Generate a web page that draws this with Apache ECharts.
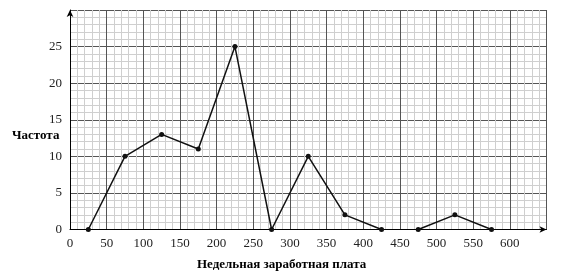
<!DOCTYPE html>
<html>
<head>
<meta charset="utf-8">
<script src="https://cdn.jsdelivr.net/npm/echarts@6/dist/echarts.min.js"></script>
<style>html,body{margin:0;padding:0;background:#fff}#c{width:562px;height:277px}</style>
</head>
<body>
<div id="c"></div>
<script>
// Data: weekly wage midpoints and frequencies (two separate segments)
const wages1 = [25, 75, 125, 175, 225, 275, 325, 375, 425];
const freq1  = [0, 10, 13, 11, 25, 0, 10, 2, 0];
const wages2 = [475, 525, 575];
const freq2  = [0, 2, 0];
const xTicks = [0, 50, 100, 150, 200, 250, 300, 350, 400, 450, 500, 550, 600];
const yTicks = [0, 5, 10, 15, 20, 25];
const yLabel = 'Частота';
const xLabel = 'Недельная заработная плата';

const font = '"Liberation Serif", "Times New Roman", serif';
const chart = echarts.init(document.getElementById('c'), null, {renderer: 'canvas'});
const seriesStyle = {
  type: 'line',
  symbol: 'circle',
  symbolSize: 5,
  lineStyle: {color: '#111', width: 1.5},
  itemStyle: {color: '#111'},
  animation: false
};
chart.setOption({
  animation: false,
  grid: {left: 70, right: 15.5, top: 10, bottom: 47.5, containLabel: false},
  xAxis: {
    type: 'value', min: 0, max: 650, interval: 50,
    axisLine: {show: true, lineStyle: {color: '#000', width: 1}, symbol: ['none', 'arrow'], symbolSize: [5, 7], symbolOffset: [0, 0]},
    axisTick: {show: false},
    axisLabel: {
      color: '#222', fontFamily: font, fontSize: 13, margin: 8,
      formatter: v => xTicks.includes(v) ? String(v) : ''
    },
    splitLine: {show: true, lineStyle: {color: '#555', width: 1}},
    minorTick: {show: false, splitNumber: 5},
    minorSplitLine: {show: true, lineStyle: {color: '#cfcfcf', width: 1}}
  },
  yAxis: {
    type: 'value', min: 0, max: 30, interval: 5,
    axisLine: {show: true, lineStyle: {color: '#000', width: 1}, symbol: ['none', 'arrow'], symbolSize: [5, 7]},
    axisTick: {show: false},
    axisLabel: {
      color: '#222', fontFamily: font, fontSize: 13, margin: 8,
      formatter: v => yTicks.includes(v) ? String(v) : ''
    },
    splitLine: {show: true, lineStyle: {color: '#555', width: 1}},
    minorTick: {show: false, splitNumber: 5},
    minorSplitLine: {show: true, lineStyle: {color: '#cfcfcf', width: 1}}
  },
  graphic: [
    {type: 'text', left: 12, top: 129, style: {text: yLabel, font: 'bold 13px ' + font, fill: '#000'}},
    {type: 'text', left: 197, top: 258, style: {text: xLabel, font: 'bold 13px ' + font, fill: '#000'}}
  ],
  series: [
    Object.assign({data: wages1.map((x, i) => [x, freq1[i]])}, seriesStyle),
    Object.assign({data: wages2.map((x, i) => [x, freq2[i]])}, seriesStyle)
  ]
});
</script>
</body>
</html>
